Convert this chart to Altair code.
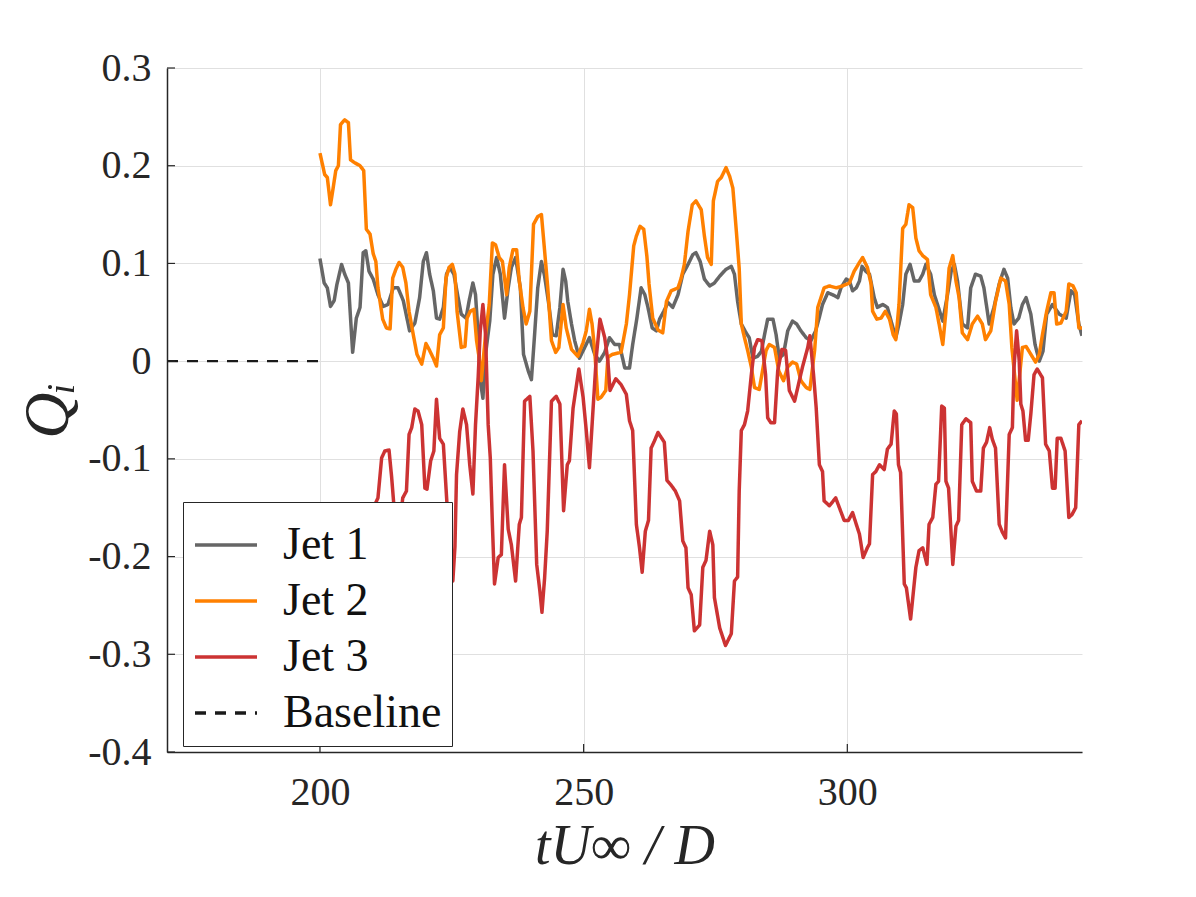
import altair as alt
import pandas as pd

# ---------------- data ----------------
jet1_t = [200.0, 200.8, 201.4, 202.0, 202.7, 203.2, 204.1, 204.7, 205.4, 206.2, 206.9, 207.6, 208.2, 208.7,
          209.3, 210.1, 211.0, 212.0, 212.9, 213.9, 214.8, 215.8, 217.0, 218.0, 218.9, 219.6, 220.2, 220.8,
          221.5, 222.1, 222.7, 223.4, 224.0, 224.6, 225.4, 226.2, 226.8, 227.7, 228.3, 229.0, 229.5, 230.0,
          230.4, 230.9, 231.4, 232.2, 232.8, 233.5, 234.2, 235.0, 235.7, 236.3, 237.1, 238.0, 238.6, 239.5,
          240.1, 240.7, 241.3, 242.0, 242.6, 243.4, 244.1, 244.8, 245.5, 246.1, 246.6, 247.0, 247.7, 248.3,
          249.2, 250.2, 251.1, 252.1, 253.0, 254.0, 254.9, 255.9, 256.8, 257.8, 258.7, 259.3, 260.1, 260.9,
          261.6, 262.2, 263.0, 263.8, 264.4, 265.2, 266.0, 266.9, 267.9, 268.8, 269.8, 270.7, 271.3, 272.1,
          272.9, 273.9, 274.8, 275.8, 277.0, 278.0, 278.6, 279.2, 279.9, 280.8, 281.4, 282.1, 283.0, 283.7,
          284.3, 284.9, 285.9, 286.5, 287.1, 287.9, 288.7, 289.6, 290.4, 291.2, 292.2, 293.1, 294.0, 294.7,
          295.3, 296.3, 297.2, 298.2, 298.8, 299.8, 300.4, 301.0, 301.7, 302.3, 302.8, 303.5, 304.2, 305.1,
          305.7, 306.7, 307.6, 308.3, 309.2, 309.8, 310.5, 311.1, 311.9, 312.7, 313.6, 314.3, 314.9, 315.8,
          316.5, 317.1, 318.1, 319.0, 319.7, 320.3, 320.9, 321.8, 322.8, 323.4, 324.3, 325.3, 325.9, 326.9,
          327.8, 328.8, 329.7, 330.4, 331.0, 331.6, 332.5, 333.2, 333.9, 334.8, 335.6, 336.4, 337.1, 337.8,
          338.9, 340.2, 341.5, 342.4, 343.1, 343.9, 344.5]
jet1_q = [0.105, 0.080, 0.075, 0.056, 0.062, 0.078, 0.099, 0.089, 0.080, 0.009, 0.044, 0.055, 0.111, 0.113,
          0.092, 0.084, 0.068, 0.056, 0.058, 0.075, 0.075, 0.062, 0.031, 0.039, 0.065, 0.102, 0.111, 0.089,
          0.072, 0.044, 0.043, 0.055, 0.089, 0.096, 0.089, 0.065, 0.048, 0.044, 0.062, 0.080, 0.068, 0.027,
          -0.020, -0.038, 0.007, 0.041, 0.089, 0.106, 0.089, 0.044, 0.075, 0.096, 0.106, 0.075, 0.007, -0.010,
          -0.019, 0.027, 0.075, 0.102, 0.087, 0.058, 0.027, 0.026, 0.055, 0.094, 0.082, 0.061, 0.038, 0.021,
          0.003, 0.014, 0.024, 0.007, 0.000, 0.009, 0.024, 0.017, 0.017, -0.007, -0.007, 0.017, 0.044, 0.075,
          0.068, 0.055, 0.034, 0.031, 0.043, 0.051, 0.060, 0.055, 0.068, 0.089, 0.099, 0.109, 0.111, 0.102,
          0.084, 0.077, 0.080, 0.087, 0.094, 0.097, 0.089, 0.061, 0.038, 0.029, 0.024, 0.003, 0.005, 0.010,
          0.027, 0.043, 0.043, 0.027, 0.003, 0.007, 0.031, 0.041, 0.038, 0.031, 0.024, 0.021, 0.031, 0.045,
          0.058, 0.070, 0.068, 0.065, 0.075, 0.084, 0.082, 0.072, 0.075, 0.082, 0.097, 0.092, 0.089, 0.065,
          0.055, 0.058, 0.055, 0.041, 0.024, 0.038, 0.058, 0.089, 0.099, 0.082, 0.082, 0.089, 0.099, 0.089,
          0.068, 0.058, 0.041, 0.068, 0.092, 0.099, 0.082, 0.038, 0.034, 0.075, 0.089, 0.087, 0.075, 0.038,
          0.055, 0.079, 0.094, 0.085, 0.055, 0.038, 0.044, 0.058, 0.065, 0.048, 0.017, 0.000, 0.010, 0.048,
          0.058, 0.048, 0.044, 0.072, 0.068, 0.038, 0.026]

jet2_t = [200.0, 200.9, 201.4, 202.0, 202.5, 203.0, 203.5, 203.9, 204.7, 205.4, 205.8, 206.6, 207.6, 208.3,
          208.8, 209.5, 210.1, 210.6, 211.0, 211.9, 212.6, 213.3, 213.8, 214.4, 215.0, 215.7, 216.3, 216.9,
          217.7, 218.4, 219.3, 220.1, 220.7, 221.5, 222.1, 222.7, 223.4, 223.9, 224.5, 225.1, 225.6, 226.0,
          226.8, 227.5, 227.9, 228.5, 229.2, 229.7, 230.2, 230.6, 231.4, 232.1, 232.7, 233.3, 234.0, 234.6,
          235.4, 235.9, 236.6, 237.3, 237.8, 238.5, 239.1, 239.8, 240.5, 241.3, 242.0, 242.6, 243.2, 243.9,
          244.7, 245.3, 246.1, 246.7, 247.7, 248.9, 249.9, 250.5, 251.1, 251.6, 252.1, 252.7, 253.3, 254.2,
          254.6, 255.5, 257.1, 258.1, 258.7, 259.5, 260.0, 260.7, 261.4, 262.0, 262.4, 263.1, 264.1, 265.0,
          265.7, 266.6, 267.9, 268.5, 269.1, 269.8, 270.6, 271.3, 272.3, 272.9, 273.5, 274.2, 274.6, 275.4,
          276.1, 277.0, 277.7, 278.3, 279.0, 279.5, 279.9, 280.5, 281.1, 281.8, 282.4, 283.3, 284.6, 285.2,
          286.2, 287.0, 287.9, 288.7, 289.6, 290.4, 291.2, 292.2, 292.9, 293.8, 294.4, 295.0, 295.6, 296.6,
          297.9, 299.1, 300.4, 301.3, 302.3, 302.9, 303.8, 304.5, 304.8, 305.6, 306.4, 307.2, 308.0, 308.7,
          309.2, 309.8, 310.5, 311.1, 311.7, 312.4, 313.0, 313.6, 314.3, 315.2, 315.8, 316.8, 317.4, 318.1,
          318.7, 319.3, 320.0, 320.6, 321.2, 321.8, 322.8, 323.7, 324.7, 325.6, 326.2, 327.2, 328.1, 329.1,
          330.0, 330.7, 331.2, 332.2, 333.2, 333.9, 334.8, 335.7, 336.4, 337.0, 337.8, 338.6, 339.2, 339.7,
          340.5, 341.5, 342.0, 342.8, 343.4, 343.9, 344.5]
jet2_q = [0.213, 0.191, 0.188, 0.160, 0.177, 0.195, 0.200, 0.242, 0.247, 0.244, 0.206, 0.203, 0.200, 0.195,
          0.135, 0.130, 0.110, 0.102, 0.075, 0.043, 0.034, 0.033, 0.085, 0.094, 0.101, 0.096, 0.080, 0.051,
          0.027, 0.007, -0.003, 0.018, 0.012, 0.003, -0.005, 0.027, 0.034, 0.085, 0.096, 0.099, 0.089, 0.051,
          0.014, 0.015, 0.044, 0.051, 0.053, 0.021, 0.003, -0.020, 0.027, 0.058, 0.121, 0.119, 0.106, 0.102,
          0.068, 0.096, 0.114, 0.114, 0.082, 0.055, 0.038, 0.051, 0.140, 0.148, 0.150, 0.113, 0.075, 0.021,
          0.009, 0.014, 0.058, 0.034, 0.012, 0.005, 0.019, 0.031, 0.053, 0.038, 0.011, -0.039, -0.037, -0.030,
          0.004, 0.007, 0.009, 0.038, 0.068, 0.118, 0.128, 0.138, 0.135, 0.107, 0.079, 0.044, 0.032, 0.029,
          0.061, 0.072, 0.075, 0.085, 0.099, 0.133, 0.160, 0.164, 0.155, 0.128, 0.106, 0.099, 0.164, 0.184,
          0.188, 0.198, 0.189, 0.177, 0.130, 0.095, 0.038, 0.024, 0.011, -0.006, -0.027, -0.029, 0.011, 0.017,
          0.014, -0.010, -0.020, -0.006, -0.001, -0.003, -0.020, -0.027, -0.029, 0.011, 0.055, 0.065, 0.075, 0.077,
          0.075, 0.077, 0.080, 0.092, 0.101, 0.106, 0.096, 0.079, 0.051, 0.043, 0.044, 0.051, 0.043, 0.027,
          0.022, 0.058, 0.136, 0.140, 0.160, 0.157, 0.126, 0.113, 0.108, 0.104, 0.068, 0.055, 0.038, 0.017,
          0.051, 0.095, 0.108, 0.082, 0.065, 0.029, 0.022, 0.038, 0.046, 0.038, 0.022, 0.031, 0.061, 0.085,
          0.082, 0.058, 0.014, -0.040, 0.014, 0.015, 0.007, -0.001, 0.007, 0.027, 0.051, 0.070, 0.070, 0.038,
          0.039, 0.051, 0.079, 0.077, 0.070, 0.034, 0.034]

jet3_t = [200.0, 201.0, 202.0, 203.0, 204.0, 205.0, 206.0, 207.0, 208.0, 209.0, 209.8, 210.4, 211.0, 211.7,
          212.3, 213.1, 213.6, 214.2, 214.8, 215.3, 215.7, 216.4, 216.9, 217.4, 218.0, 218.6, 219.3, 219.9,
          220.3, 221.0, 221.6, 222.1, 222.7, 223.4, 224.1, 224.7, 225.2, 225.6, 225.9, 226.5, 227.1, 227.8,
          228.4, 229.0, 229.5, 230.0, 230.4, 230.9, 231.4, 231.9, 232.3, 232.7, 233.1, 233.8, 234.4, 235.0,
          235.7, 236.3, 237.1, 237.8, 238.2, 238.8, 239.8, 240.4, 241.1, 241.7, 242.1, 242.6, 243.1, 243.9,
          244.8, 245.5, 246.2, 246.9, 247.3, 248.0, 249.1, 249.9, 250.5, 251.1, 251.8, 252.4, 253.1, 254.0,
          254.6, 255.0, 256.1, 257.1, 258.1, 258.7, 259.3, 260.0, 260.6, 261.1, 261.7, 262.3, 262.8, 263.4,
          264.1, 265.3, 265.8, 266.6, 267.4, 268.2, 268.8, 269.4, 269.8, 270.4, 271.0, 272.0, 272.6, 273.2,
          273.9, 274.5, 274.8, 275.8, 276.9, 278.0, 278.6, 279.2, 279.5, 279.9, 280.5, 281.1, 281.8, 282.4,
          283.0, 283.8, 284.5, 284.9, 285.5, 286.2, 286.8, 287.6, 288.3, 289.0, 290.0, 290.6, 291.5, 292.5,
          292.9, 293.6, 294.1, 294.7, 295.3, 295.6, 296.6, 297.8, 298.5, 299.4, 300.2, 301.0, 301.7, 302.3,
          303.0, 303.8, 304.2, 304.8, 305.4, 306.1, 307.0, 307.6, 308.3, 308.9, 309.3, 309.7, 310.1, 310.8,
          311.2, 312.0, 313.0, 313.6, 314.3, 315.1, 315.5, 316.2, 316.8, 317.3, 317.9, 318.4, 318.7, 319.2,
          320.0, 320.6, 321.1, 321.7, 322.5, 323.4, 323.7, 324.5, 325.3, 325.8, 326.4, 327.0, 327.5, 328.1,
          328.8, 329.4, 330.0, 330.7, 331.3, 331.6, 332.1, 332.6, 332.9, 333.3, 333.8, 334.3, 334.8, 335.4,
          336.0, 337.0, 337.6, 338.3, 338.9, 339.4, 339.8, 340.5, 341.3, 342.0, 342.6, 343.3, 343.9, 344.5]
jet3_q = [-0.22, -0.25, -0.21, -0.24, -0.28, -0.23, -0.20, -0.24, -0.21, -0.19, -0.17, -0.147, -0.140, -0.099,
          -0.092, -0.091, -0.119, -0.160, -0.185, -0.160, -0.140, -0.133, -0.075, -0.068, -0.049, -0.051, -0.065, -0.130,
          -0.131, -0.102, -0.092, -0.039, -0.079, -0.085, -0.147, -0.200, -0.225, -0.190, -0.116, -0.072, -0.049, -0.065,
          -0.106, -0.136, -0.065, -0.017, 0.031, 0.058, 0.027, -0.065, -0.099, -0.167, -0.228, -0.201, -0.198, -0.106,
          -0.172, -0.188, -0.225, -0.167, -0.160, -0.041, -0.036, -0.092, -0.208, -0.235, -0.257, -0.222, -0.174, -0.041,
          -0.036, -0.044, -0.153, -0.106, -0.102, -0.048, -0.008, -0.037, -0.071, -0.109, -0.048, 0.004, 0.043, 0.024,
          0.000, -0.030, -0.018, -0.024, -0.034, -0.061, -0.071, -0.167, -0.191, -0.216, -0.174, -0.163, -0.089, -0.082,
          -0.073, -0.083, -0.122, -0.127, -0.133, -0.143, -0.184, -0.191, -0.232, -0.239, -0.276, -0.270, -0.211, -0.204,
          -0.174, -0.188, -0.242, -0.273, -0.291, -0.279, -0.225, -0.221, -0.133, -0.071, -0.065, -0.051, -0.014, 0.014,
          0.022, 0.021, -0.014, -0.058, -0.063, -0.063, -0.010, 0.012, 0.011, -0.030, -0.041, -0.027, -0.006, 0.014,
          0.026, -0.014, -0.048, -0.106, -0.113, -0.143, -0.148, -0.140, -0.150, -0.163, -0.163, -0.155, -0.167, -0.177,
          -0.201, -0.191, -0.187, -0.116, -0.113, -0.106, -0.111, -0.090, -0.085, -0.051, -0.054, -0.106, -0.114, -0.228,
          -0.232, -0.264, -0.211, -0.194, -0.191, -0.208, -0.167, -0.160, -0.126, -0.123, -0.046, -0.048, -0.123, -0.130,
          -0.208, -0.169, -0.163, -0.065, -0.059, -0.063, -0.123, -0.133, -0.133, -0.089, -0.083, -0.068, -0.080, -0.089,
          -0.167, -0.175, -0.181, -0.075, -0.068, -0.007, 0.031, 0.000, -0.044, -0.051, -0.081, -0.081, -0.054, -0.014,
          -0.008, -0.017, -0.085, -0.092, -0.130, -0.130, -0.079, -0.079, -0.092, -0.160, -0.157, -0.150, -0.065, -0.061]

base_t = [171.0, 200.0]
base_q = [0.0, 0.0]

x_ticks = [200, 250, 300]
y_ticks = [-0.4, -0.3, -0.2, -0.1, 0.0, 0.1, 0.2, 0.3]

series_names = ["Jet 1", "Jet 2", "Jet 3", "Baseline"]
series_colors = ["#666666", "#FF8000", "#CC3333", "#1a1a1a"]
series_dash = [[1, 0], [1, 0], [1, 0], [11, 9]]

# ---------------- chart ----------------
FONT = "Liberation Serif"
INK = "#262626"
W, H = 915, 684


def frame(t, q, name):
    return pd.DataFrame({"t": t, "q": q, "series": name})


legend = alt.Legend(
    title=None, orient="none", legendX=16, legendY=434, zindex=1,
    fillColor="white", strokeColor=INK, padding=10,
    symbolType="stroke", symbolSize=3844, symbolStrokeWidth=3.5,
    labelFont=FONT, labelFontSize=46, labelColor="#111111",
    labelOffset=24, rowPadding=0, labelLimit=400,
)
color = alt.Color("series:N", scale=alt.Scale(domain=series_names, range=series_colors), legend=legend)
dash = alt.StrokeDash("series:N", scale=alt.Scale(domain=series_names, range=series_dash), legend=legend)

xenc = alt.X(
    "t:Q",
    scale=alt.Scale(domain=[171, 344.5], nice=False, zero=False),
    axis=alt.Axis(
        values=x_ticks, title="tU∞ / D", format="d",
        labelFont=FONT, labelFontSize=40, labelColor=INK, labelBaseline="alphabetic", labelPadding=52,
        titleFont=FONT, titleFontSize=56, titleFontStyle="italic", titleFontWeight="normal",
        titleColor=INK, titleBaseline="alphabetic", titleY=111,
        domainColor=INK, domainWidth=1.5, tickSize=0,
        grid=True, gridColor="#e0e0e0", gridWidth=1,
    ),
)
yenc = alt.Y(
    "q:Q",
    scale=alt.Scale(domain=[-0.4, 0.3], nice=False, zero=False),
    axis=alt.Axis(
        values=y_ticks, title="Qᵢ",
        labelExpr="datum.value == 0 ? '0' : (datum.value < 0 ? '-' + format(-datum.value, '.1f') : format(datum.value, '.1f'))",
        labelFont=FONT, labelFontSize=40, labelColor=INK, labelPadding=16,
        titleFont=FONT, titleFontSize=64, titleFontStyle="italic", titleFontWeight="normal",
        titleColor=INK, titleBaseline="alphabetic", titleX=-100, titleY=H / 2, titleAngle=-90,
        domainColor=INK, domainWidth=1.5, tickSize=0,
        grid=True, gridColor="#e0e0e0", gridWidth=1,
    ),
)

layers = []
for t, q, name, sw in [(base_t, base_q, "Baseline", 2.2),
                       (jet1_t, jet1_q, "Jet 1", 3.5),
                       (jet2_t, jet2_q, "Jet 2", 3.5),
                       (jet3_t, jet3_q, "Jet 3", 3.5)]:
    layers.append(
        alt.Chart(frame(t, q, name)).mark_line(strokeWidth=sw, clip=True, strokeJoin="round").encode(
            x=xenc, y=yenc, color=color, strokeDash=dash
        )
    )

ytick_df = pd.DataFrame({"q": y_ticks})
xtick_df = pd.DataFrame({"t": x_ticks})
yticks = alt.Chart(ytick_df).mark_rule(color=INK, strokeWidth=1.2).encode(
    y=alt.Y("q:Q"), x=alt.value(0), x2=alt.value(8)
)
xticks = alt.Chart(xtick_df).mark_rule(color=INK, strokeWidth=1.2).encode(
    x=alt.X("t:Q"), y=alt.value(H), y2=alt.value(H - 8)
)

chart = alt.layer(*layers, yticks, xticks).properties(
    width=W, height=H,
    autosize=alt.AutoSizeParams(type="none"),
    padding={"left": 159, "top": 60, "right": 100, "bottom": 130},
    background="white",
).configure_view(stroke=None)

chart.save("out.html", embed_options={"renderer": "svg", "actions": False})
